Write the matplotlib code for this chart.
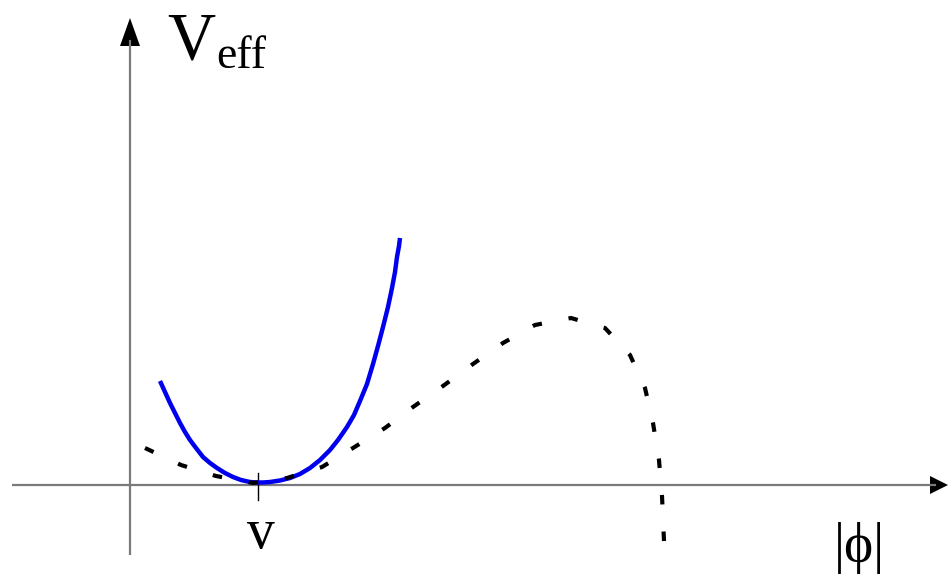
import matplotlib
matplotlib.use("Agg")
import matplotlib.pyplot as plt
import numpy as np

# Curve samples (pixel-like units, y downwards)
blue_x = [160, 165, 170, 175, 180, 185, 190, 196, 203, 210, 217, 225, 233, 241, 250, 257, 263, 270, 280, 290,
          300, 310, 320, 330, 338, 347, 354, 360, 367, 373, 378, 383, 388, 392, 395, 397, 399, 400]
blue_y = [381, 392, 403, 413, 423, 432, 440, 448, 457, 463, 468, 473, 477, 480, 482, 482.5, 482.5, 482, 480.5, 478,
          474, 468, 460, 450, 440, 427, 415, 401, 384, 364, 346, 327, 307, 288, 272, 257, 246, 238]

dash_x = [145, 181, 216, 253, 287, 322, 353, 385, 413, 443, 473, 503, 535, 571, 605, 630, 645, 653, 659, 662, 664]
dash_y = [448, 465, 476, 483, 478, 467, 448, 428, 407, 386, 364, 343, 325, 318, 328, 355, 388, 423, 460, 496, 541]

v_pos = 258
labels = {"y": "V", "y_sub": "eff", "tick": "v", "x": "|ϕ|"}

W, H = 948, 574
fig = plt.figure(figsize=(W / 100, H / 100), dpi=100)
ax = fig.add_axes([0, 0, 1, 1])
ax.set_xlim(0, W)
ax.set_ylim(H, 0)
ax.axis("off")

axis_col = "#7a7a7a"
# horizontal axis
ax.plot([12, 936], [485, 485], color=axis_col, lw=1.6, solid_capstyle="butt")
ax.fill([948, 930, 930], [485, 476, 494], color="black", lw=0)
# vertical axis
ax.plot([130, 130], [555, 40], color=axis_col, lw=1.6, solid_capstyle="butt")
ax.fill([130, 120, 140], [18, 46, 46], color="black", lw=0)
# tick at v
ax.plot([v_pos, v_pos], [473, 500], color="black", lw=1.0)

plt.rcParams['lines.scale_dashes'] = False
ax.plot(blue_x, blue_y, color="#0000ee", lw=3.2, solid_capstyle="butt", solid_joinstyle="round")

# fit the dash period so the pattern begins and ends with a dash
L = float(np.sum(np.hypot(np.diff(dash_x), np.diff(dash_y))))  # pixels (1 data unit = 1 px)
on_px, period0 = 9.5, 37.5
n = max(1, round((L - on_px) / period0))
period = (L - on_px) / n
pt = 72 / 100
ln, = ax.plot(dash_x, dash_y, color="black", lw=3.0)
ln.set_dashes((on_px * pt, (period - on_px) * pt))
ln.set_dash_capstyle("butt")

serif = ["Liberation Serif", "DejaVu Serif"]
ax.text(167, 58, labels["y"], fontsize=48, family=serif, ha="left", va="baseline")
ax.text(216, 68, labels["y_sub"], fontsize=33, family=serif, ha="left", va="baseline")
ax.text(260.5, 548, labels["tick"], fontsize=40, family=serif, ha="center", va="baseline")
ax.text(859, 562, labels["x"], fontsize=40, family=serif, ha="center", va="baseline")

fig.savefig("out.png", dpi=100)
